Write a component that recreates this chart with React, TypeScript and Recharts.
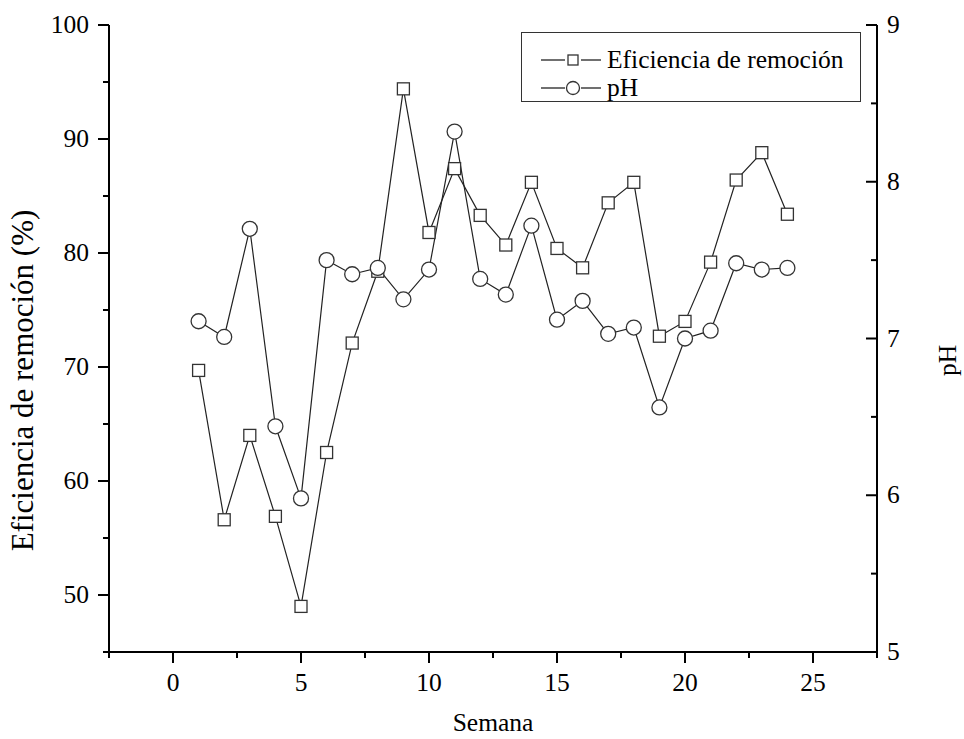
import React from 'react';
import { ComposedChart, Line, XAxis, YAxis, Legend } from 'recharts';

const semanas = [1, 2, 3, 4, 5, 6, 7, 8, 9, 10, 11, 12, 13, 14, 15, 16, 17, 18, 19, 20, 21, 22, 23, 24];
const eficiencia = [69.7, 56.6, 64.0, 56.9, 49.0, 62.5, 72.1, 78.4, 94.4, 81.8, 87.4, 83.3, 80.7, 86.2, 80.4, 78.7, 84.4, 86.2, 72.7, 74.0, 79.2, 86.4, 88.8, 83.4];
const ph = [7.11, 7.01, 7.7, 6.44, 5.98, 7.5, 7.41, 7.45, 7.25, 7.44, 8.32, 7.38, 7.28, 7.72, 7.12, 7.24, 7.03, 7.07, 6.56, 7.0, 7.05, 7.48, 7.44, 7.45];

const xTicks = [-2.5, 0, 2.5, 5, 7.5, 10, 12.5, 15, 17.5, 20, 22.5, 25, 27.5];
const leftTicks = [45, 50, 55, 60, 65, 70, 75, 80, 85, 90, 95, 100];
const rightTicks = [5, 5.5, 6, 6.5, 7, 7.5, 8, 8.5, 9];

const data = semanas.map((s, i) => ({ semana: s, eficiencia: eficiencia[i], ph: ph[i] }));

const FONT = '"Liberation Serif", "Times New Roman", serif';
const FS = 25.5;

// major/minor ticks drawn by hand so the minor ones stay short and unlabeled
function XTick({ x, y, payload }: any) {
  const major = payload.value % 5 === 0;
  return (
    <g>
      <line x1={x} y1={y} x2={x} y2={y + (major ? 11 : 6)} stroke="#000" strokeWidth={2} />
      {major && (
        <text x={x} y={y + 39} textAnchor="middle" fontSize={FS} fontFamily={FONT} fill="#000">
          {payload.value}
        </text>
      )}
    </g>
  );
}

function LeftTick({ x, y, payload }: any) {
  const major = payload.value % 10 === 0;
  return (
    <g>
      <line x1={x} y1={y} x2={x - (major ? 11 : 6)} y2={y} stroke="#000" strokeWidth={2} />
      {major && (
        <text x={x - 20} y={y + 8} textAnchor="end" fontSize={FS} fontFamily={FONT} fill="#000">
          {payload.value}
        </text>
      )}
    </g>
  );
}

function RightTick({ x, y, payload }: any) {
  const major = Number.isInteger(payload.value);
  return (
    <g>
      <line x1={x} y1={y} x2={x - (major ? 11 : 6)} y2={y} stroke="#000" strokeWidth={2} />
      {major && (
        <text x={x + 10} y={y + 8} textAnchor="start" fontSize={FS} fontFamily={FONT} fill="#000">
          {payload.value}
        </text>
      )}
    </g>
  );
}

function SquareDot({ cx, cy, index }: any) {
  return <rect key={`sq-${index}`} x={cx - 6} y={cy - 6} width={12} height={12} fill="#fff" stroke="#333" strokeWidth={1.3} />;
}

function LegendBox() {
  const row = (shape: 'square' | 'circle', text: string) => (
    <div style={{ display: 'flex', alignItems: 'center', height: 28 }}>
      <svg width={66} height={20} style={{ marginLeft: 19 }}>
        <line x1={0} y1={10} x2={24} y2={10} stroke="#222" strokeWidth={1.3} />
        <line x1={40} y1={10} x2={60} y2={10} stroke="#222" strokeWidth={1.3} />
        {shape === 'square' ? (
          <rect x={27} y={5} width={10} height={10} fill="#fff" stroke="#333" strokeWidth={1.3} />
        ) : (
          <circle cx={32} cy={10} r={6.5} fill="#fff" stroke="#333" strokeWidth={1.3} />
        )}
      </svg>
      <span style={{ fontFamily: FONT, fontSize: FS, lineHeight: '28px', color: '#000' }}>{text}</span>
    </div>
  );
  return (
    <div
      style={{
        width: 340,
        height: 70,
        boxSizing: 'border-box',
        border: '1px solid #333',
        background: '#fff',
        paddingTop: 13,
      }}
    >
      {row('square', 'Eficiencia de remoción')}
      {row('circle', 'pH')}
    </div>
  );
}

function LeftTitle({ viewBox }: any) {
  const x = viewBox.x + 33;
  const y = viewBox.y + viewBox.height / 2 + 42;
  return (
    <text x={x} y={y} transform={`rotate(-90, ${x}, ${y})`} textAnchor="middle" fontSize={31} fontFamily={FONT} fill="#000">
      Eficiencia de remoción (%)
    </text>
  );
}

function RightTitle({ viewBox }: any) {
  const x = viewBox.x + viewBox.width - 8;
  const y = viewBox.y + viewBox.height / 2 + 22;
  return (
    <text x={x} y={y} transform={`rotate(-90, ${x}, ${y})`} textAnchor="middle" fontSize={FS} fontFamily={FONT} fill="#000">
      pH
    </text>
  );
}

function BottomTitle({ viewBox }: any) {
  return (
    <text x={viewBox.x + viewBox.width / 2} y={viewBox.y + 79} textAnchor="middle" fontSize={FS} fontFamily={FONT} fill="#000">
      Semana
    </text>
  );
}

export default function App() {
  return (
    <div style={{ position: 'absolute', left: 0, top: 0, background: '#fff' }}>
      <ComposedChart width={964} height={739} data={data} margin={{ top: 25, right: 0, bottom: 0, left: 0 }}>
        <XAxis
          dataKey="semana"
          type="number"
          domain={[-2.5, 27.5]}
          ticks={xTicks}
          interval={0}
          height={87}
          tickSize={0}
          tickMargin={0}
          tickLine={false}
          tick={<XTick />}
          axisLine={{ stroke: '#000', strokeWidth: 2 }}
          label={{ content: <BottomTitle /> }}
        />
        <YAxis
          yAxisId="left"
          orientation="left"
          domain={[45, 100]}
          ticks={leftTicks}
          interval={0}
          width={109}
          tickSize={0}
          tickMargin={0}
          tickLine={false}
          tick={<LeftTick />}
          axisLine={{ stroke: '#000', strokeWidth: 2 }}
          label={{ content: <LeftTitle /> }}
        />
        <YAxis
          yAxisId="right"
          orientation="right"
          domain={[5, 9]}
          ticks={rightTicks}
          interval={0}
          width={87}
          tickSize={0}
          tickMargin={0}
          tickLine={false}
          tick={<RightTick />}
          axisLine={{ stroke: '#000', strokeWidth: 2 }}
          label={{ content: <RightTitle /> }}
        />
        <Legend
          layout="vertical"
          align="center"
          verticalAlign="middle"
          content={<LegendBox />}
          wrapperStyle={{ top: 32, left: 521, width: 340 }}
        />
        <Line
          yAxisId="left"
          dataKey="eficiencia"
          name="Eficiencia de remoción"
          stroke="#222"
          strokeWidth={1.2}
          dot={<SquareDot />}
          activeDot={false}
          isAnimationActive={false}
        />
        <Line
          yAxisId="right"
          dataKey="ph"
          name="pH"
          stroke="#222"
          strokeWidth={1.2}
          dot={{ r: 7.5, fill: '#fff', stroke: '#333', strokeWidth: 1.3 }}
          activeDot={false}
          isAnimationActive={false}
        />
      </ComposedChart>
    </div>
  );
}
